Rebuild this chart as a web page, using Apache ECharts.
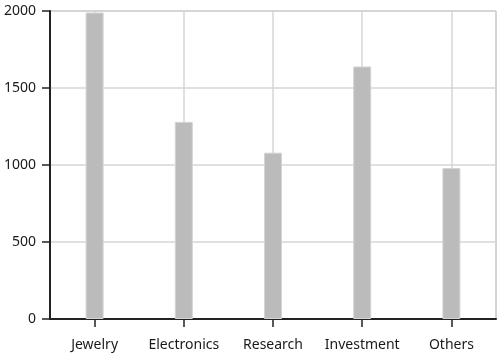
<!DOCTYPE html>
<html>
<head>
<meta charset="utf-8">
<script src="https://cdn.jsdelivr.net/npm/echarts@6/dist/echarts.min.js"></script>
<style>
    html, body { margin: 0; padding: 0; background: #fff; }
    #chart { width: 498px; height: 354px; }
</style>
</head>
<body>
<div id="chart"></div>
<script>
    // data
    var categories = ['Jewelry', 'Electronics', 'Research', 'Investment', 'Others'];
    var values = [1990, 1280, 1080, 1640, 980];
    var yTicks = [0, 500, 1000, 1500, 2000];

    var myChart = echarts.init(document.getElementById('chart'));
    var font = 'Segoe UI, Noto Sans, sans-serif';

    myChart.setOption({
        animation: false,
        grid: {
            left: 50, top: 11, right: 2, bottom: 35,
            show: true, borderColor: '#a8a8a8', borderWidth: 1
        },
        xAxis: {
            type: 'category',
            data: categories,
            boundaryGap: true,
            axisLine: { show: true, lineStyle: { color: '#222', width: 2 } },
            axisTick: { show: true, inside: false, alignWithLabel: true, interval: 0, length: 8, lineStyle: { color: '#222', width: 1.5 } },
            axisLabel: { interval: 0, color: '#1a1a1a', fontSize: 14, fontFamily: font, margin: 19 },
            splitLine: { show: true, alignWithLabel: true, interval: 0, lineStyle: { color: '#d6d6d6', width: 1.5 } }
        },
        yAxis: {
            type: 'value',
            min: yTicks[0],
            max: yTicks[yTicks.length - 1],
            interval: 500,
            axisLine: { show: true, lineStyle: { color: '#222', width: 2 } },
            axisTick: { show: true, inside: false, length: 8, lineStyle: { color: '#222', width: 1.5 } },
            axisLabel: {
                color: '#1a1a1a', fontSize: 14, fontFamily: font, margin: 14,
                formatter: function (v) { return String(v); }
            },
            splitLine: { lineStyle: { color: '#d6d6d6', width: 1.5 } }
        },
        series: [{
            type: 'bar',
            data: values,
            barWidth: 18,
            itemStyle: { color: '#bbbbbb', borderColor: '#d4d4d4', borderWidth: 1 }
        }]
    });
</script>
</body>
</html>
